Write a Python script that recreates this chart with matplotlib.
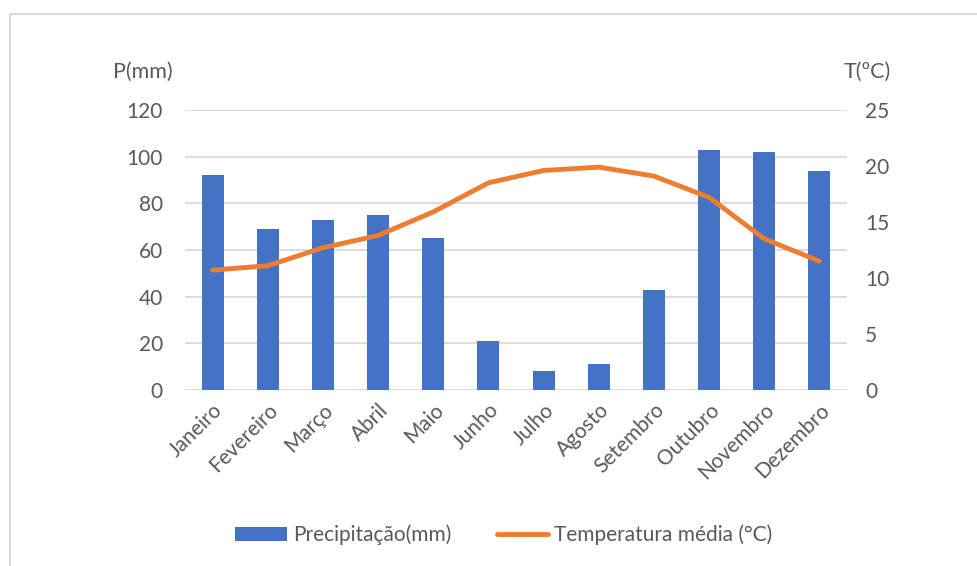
import matplotlib
matplotlib.use("Agg")
import matplotlib.pyplot as plt
from matplotlib.patches import Rectangle

months = ["Janeiro", "Fevereiro", "Março", "Abril", "Maio", "Junho",
          "Julho", "Agosto", "Setembro", "Outubro", "Novembro", "Dezembro"]
precip_mm = [92, 69, 73, 75, 65, 21, 8, 11, 43, 103, 102, 94]
temp_c = [10.7, 11.1, 12.7, 13.8, 15.9, 18.5, 19.6, 19.9, 19.1, 17.2, 13.5, 11.5]
p_ticks = [0, 20, 40, 60, 80, 100, 120]
t_ticks = [0, 5, 10, 15, 20, 25]

plt.rcParams['font.family'] = ['Lato', 'DejaVu Sans']
text_color = "#595959"
grid_color = "#D9D9D9"
fs = 15

fig = plt.figure(figsize=(9.77, 5.66), dpi=100)
W, H = 977, 566
ax = fig.add_axes([185 / W, 1 - 390 / H, (847 - 185) / W, 280 / H])

x = list(range(len(months)))
bars = ax.bar(x, precip_mm, width=0.4, color="#4472C4", zorder=2,
              label="Precipitação(mm)")
ax.set_xlim(-0.5, len(months) - 0.5)
ax.set_ylim(0, 120)
ax.set_yticks(p_ticks)
ax.yaxis.grid(True, color=grid_color, linewidth=1.3, zorder=0)
ax.set_axisbelow(True)
for s in ax.spines.values():
    s.set_visible(False)
ax.tick_params(axis="both", length=0, colors=text_color, labelsize=fs)
ax.tick_params(axis="y", pad=16)
ax.set_xticks(x)
ax.set_xticklabels(months, rotation=45, ha="right", rotation_mode="anchor")
ax.tick_params(axis="x", pad=7)

ax2 = ax.twinx()
line, = ax2.plot(x, temp_c, color="#ED7D31", linewidth=3.5,
                 solid_capstyle="round", solid_joinstyle="round", zorder=3,
                 label="Temperatura média (°C)")
ax2.set_ylim(0, 25)
ax2.set_yticks(t_ticks)
for s in ax2.spines.values():
    s.set_visible(False)
ax2.tick_params(axis="y", length=0, colors=text_color, labelsize=fs, pad=13)

fig.text(113 / W, 1 - 72 / H, "P(mm)", color=text_color, fontsize=fs + 0.5,
         ha="left", va="center")
fig.text(891 / W, 1 - 72 / H, "T(ºC)", color=text_color, fontsize=fs + 0.5,
         ha="right", va="center")

fig.legend(handles=[bars, line], loc="center", bbox_to_anchor=(504 / W, 1 - 535 / H),
           ncol=2, frameon=False, fontsize=fs, labelcolor=text_color,
           handlelength=2.45, handleheight=0.6, columnspacing=2.2, handletextpad=0.3)

# chart-area border
fig.patches.append(Rectangle((10 / W, -0.1), 1.2, 1 - 14 / H + 0.1,
                             transform=fig.transFigure, fill=False,
                             edgecolor="#D9D9D9", linewidth=1.5))

fig.savefig("out.png", dpi=100)
